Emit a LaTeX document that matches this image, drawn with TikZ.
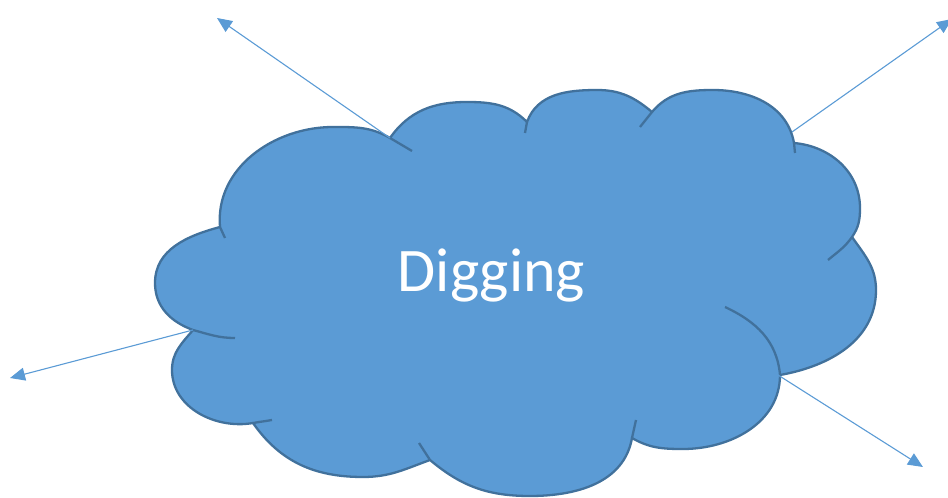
\documentclass[tikz,border=0pt]{standalone}
\usepackage{fontspec}
\setmainfont{Carlito}
\usetikzlibrary{arrows.meta}
\definecolor{cloudfill}{HTML}{5B9BD5}
\definecolor{cloudline}{HTML}{41719C}
\begin{document}
\begin{tikzpicture}[x=1pt,y=1pt,
  cloudbody/.style={fill=cloudfill, draw=cloudline, line width=2.3pt, line join=round},
  cloudtick/.style={draw=cloudline, line width=2.3pt},
  ray/.style={draw=cloudfill, line width=1.1pt, -{Triangle[length=15pt,width=13pt]}}]
\useasboundingbox (0,0) rectangle (948,498);
% junctions
\coordinate (j1) at (193,168);
\coordinate (j2) at (220,271);
\coordinate (j3) at (390,360);
\coordinate (j4) at (527,376);
\coordinate (j5) at (652,386);
\coordinate (j6) at (794,355);
\coordinate (j7) at (852,261);
\coordinate (j8) at (780,123);
\coordinate (j9) at (632,60);
\coordinate (j10) at (430,38);
\coordinate (j11) at (253,75);
% extremes
\coordinate (e1) at (155,215);
\coordinate (e2) at (333,371);
\coordinate (e3) at (467,396);
\coordinate (e4) at (597,408);
\coordinate (e5) at (713,408);
\coordinate (e6) at (860,290);
\coordinate (e7) at (876,208);
\coordinate (e8) at (683,49);
\coordinate (e9) at (530,2);
\coordinate (e10) at (363,21);
\coordinate (e11) at (172,128);
\path[cloudbody] (j1) to[out=160,in=270] (e1) to[out=90,in=195] (j2)
  to[out=95,in=180] (e2) to[out=0,in=150] (j3)
  to[out=55,in=180] (e3) to[out=0,in=135] (j4)
  to[out=70,in=180] (e4) to[out=0,in=140] (j5)
  to[out=50,in=180] (e5) to[out=0,in=100] (j6)
  to[out=-5,in=90] (e6) to[out=270,in=55] (j7)
  to[out=-55,in=90] (e7) to[out=270,in=10] (j8)
  to[out=270,in=0] (e8) to[out=180,in=-30] (j9)
  to[out=260,in=0] (e9) to[out=180,in=-40] (j10)
  to[out=200,in=0] (e10) to[out=180,in=-55] (j11)
  to[out=190,in=270] (e11) to[out=90,in=230] (j1) -- cycle;
% inner arcs
\coordinate (t1) at (235,160);
\coordinate (t2) at (225,260);
\coordinate (t3) at (412,347);
\coordinate (t4) at (525,365);
\coordinate (t5) at (640,371);
\coordinate (t6) at (795,345);
\coordinate (t7) at (828,238);
\coordinate (t8) at (725,191);
\coordinate (t9) at (636,78);
\coordinate (t10) at (419,55);
\coordinate (t11) at (272,78);
\draw[cloudtick] (j1) to[out=-15,in=180] (t1);
\draw[cloudtick] (j2) -- (t2);
\draw[cloudtick] (j3) -- (t3);
\draw[cloudtick] (j4) -- (t4);
\draw[cloudtick] (j5) -- (t5);
\draw[cloudtick] (j6) -- (t6);
\draw[cloudtick] (j7) to[out=235,in=40] (t7);
\draw[cloudtick] (t8) to[out=-25,in=95] (j8);
\draw[cloudtick] (j9) -- (t9);
\draw[cloudtick] (j10) -- (t10);
\draw[cloudtick] (j11) to[out=10,in=190] (t11);
% label
\node[text=white, font=\fontsize{62}{70}\selectfont, anchor=base, inner sep=0pt] (lbl) at (491.5,206) {Digging};
% arrows
\coordinate (s2) at (792,366);
\coordinate (s4) at (778,123);
\coordinate (a1) at (217,480);
\coordinate (a2) at (952,479);
\coordinate (a3) at (10,120);
\coordinate (a4) at (923,31);
\draw[ray] (j3) -- (a1);
\draw[ray] (s2) -- (a2);
\draw[ray] (j1) -- (a3);
\draw[ray] (s4) -- (a4);
\end{tikzpicture}
\end{document}
